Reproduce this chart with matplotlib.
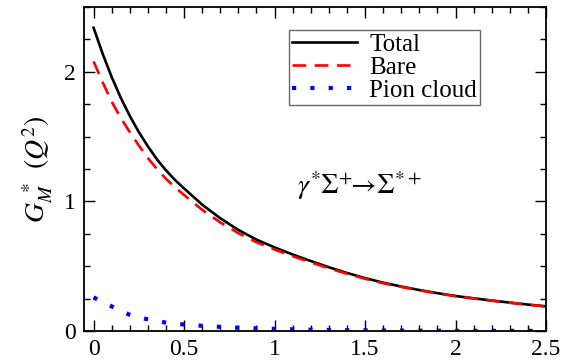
import matplotlib
matplotlib.use("Agg")
import matplotlib.pyplot as plt
from matplotlib.ticker import MultipleLocator

# Q^2 grid (GeV^2) and form factor values
q2 = [0.0, 0.05, 0.1, 0.15, 0.2, 0.25, 0.3, 0.35, 0.4, 0.45, 0.5, 0.6, 0.7,
      0.8, 0.9, 1.0, 1.1, 1.2, 1.3, 1.4, 1.5, 1.6, 1.7, 1.8, 1.9, 2.0, 2.1,
      2.2, 2.3, 2.4, 2.5]
total = [2.34, 2.14, 1.96, 1.80, 1.66, 1.535, 1.425, 1.325, 1.24, 1.165,
         1.10, 0.975, 0.87, 0.78, 0.705, 0.645, 0.59, 0.54, 0.492, 0.448,
         0.408, 0.373, 0.343, 0.316, 0.292, 0.27, 0.252, 0.235, 0.219,
         0.204, 0.19]
bare = [2.08, 1.92, 1.77, 1.645, 1.535, 1.432, 1.335, 1.25, 1.175, 1.108,
        1.05, 0.935, 0.838, 0.755, 0.685, 0.629, 0.577, 0.53, 0.484, 0.442,
        0.403, 0.369, 0.34, 0.314, 0.29, 0.269, 0.251, 0.234, 0.218, 0.203,
        0.189]
pion = [0.26, 0.22, 0.19, 0.155, 0.125, 0.105, 0.09, 0.075, 0.065, 0.057,
        0.05, 0.04, 0.032, 0.025, 0.02, 0.016, 0.013, 0.01, 0.008, 0.006,
        0.005, 0.004, 0.003, 0.002, 0.002, 0.001, 0.001, 0.001, 0.001,
        0.001, 0.001]

plt.rcParams.update({
    "font.family": ["Liberation Serif"],
    "mathtext.fontset": "stix",
    "font.size": 16,
})

fig = plt.figure(figsize=(5.74, 3.63), dpi=100)
ax = fig.add_axes([0.1463, 0.0882, 0.8049, 0.8925])

ax.plot(q2, total, color="black", lw=1.9, label="Total")
ax.plot(q2, bare, color="red", lw=1.9, linestyle=(0, (5.2, 3.2)), label="Bare")
ax.plot(q2, pion, color="blue", lw=3.0, linestyle=(0, (1, 3.4)), label="Pion cloud")

ax.set_xlim(-0.053, 2.5)
ax.set_ylim(0, 2.5)
ax.xaxis.set_minor_locator(MultipleLocator(0.1))
ax.yaxis.set_minor_locator(MultipleLocator(0.25))
ax.set_xticks([0, 0.5, 1, 1.5, 2, 2.5])
ax.set_xticklabels(["0", "0.5", "1", "1.5", "2", "2.5"], family="Liberation Serif")
ax.set_yticks([0, 1, 2])
ax.set_yticklabels(["0", "1", "2"], family="Liberation Serif")
ax.tick_params(which="both", direction="in", top=True, right=True, width=1.0,
               labelsize=17, pad=6)
ax.tick_params(which="major", length=8)
ax.tick_params(which="minor", length=4.5)
for s in ax.spines.values():
    s.set_linewidth(1.3)

ax.set_ylabel(r"$G_M^{\ *}\ \,(Q^2)$", fontsize=20, labelpad=6)

ax.text(0.461, 0.45, r"$\gamma^{*}\Sigma^{+}\!\!\rightarrow\!\Sigma^{*+}$",
        transform=ax.transAxes, fontsize=20, ha="left", va="center")

leg = ax.legend(loc="upper right", bbox_to_anchor=(0.857, 0.929), fontsize=18,
                frameon=True, fancybox=False, handlelength=2.6,
                handletextpad=0.5, borderpad=0.12, labelspacing=0.02,
                borderaxespad=0)
leg.get_frame().set_edgecolor("#444444")
leg.get_frame().set_linewidth(1.0)

fig.savefig("out.png", dpi=100)
